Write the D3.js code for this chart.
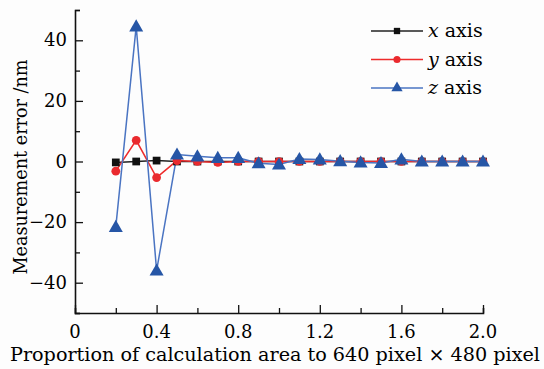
<!DOCTYPE html>
<html>
<head>
<meta charset="utf-8">
<script src="https://cdn.jsdelivr.net/npm/d3@7"></script>
<style>
  body { margin: 0; background: #fdfdfd; }
  svg { display: block; }
  text { font-family: "DejaVu Serif", "Liberation Serif", serif; fill: #000; }
</style>
</head>
<body>
<script>
var proportion = [0.2,0.3,0.4,0.5,0.6,0.7,0.8,0.9,1.0,1.1,1.2,1.3,1.4,1.5,1.6,1.7,1.8,1.9,2.0];
var errX = [-0.3,0,0.3,0,0,0,0,0,0,0,0,0,0,0,0,0,0,0,0];
var errY = [-3.2,7,-5.3,0.3,0,-0.3,0,0,0,0,0,0,0,0,0,0,0,0,0];
var errZ = [-21.6,44.6,-36,2.3,1.7,1.2,1.2,-0.6,-1,0.8,0.7,0.1,-0.3,-0.5,0.7,0,0,0,0];
var xTicks = [0,0.4,0.8,1.2,1.6,2.0];
var yTicks = [-40,-20,0,20,40];
var seriesNames = ["x", "y", "z"];

var series = [
  {name: seriesNames[0], vals: errX, color: "#111111", line: "#222222", shape: d3.symbolSquare},
  {name: seriesNames[1], vals: errY, color: "#ea2a2e", line: "#ee2b2b", shape: d3.symbolCircle},
  {name: seriesNames[2], vals: errZ, color: "#2656a6", line: "#4a74c2", shape: d3.symbolTriangle}
];

var svg = d3.select("body").append("svg").attr("width", 544).attr("height", 369);

var x = d3.scaleLinear().domain([0, 2]).range([75, 483]);
var y = d3.scaleLinear().domain([-50, 50]).range([313, 10]);

// axes, ticks pointing inward
var xAxis = d3.axisBottom(x).tickValues(d3.range(0, 2.01, 0.2)).tickSize(-5).tickFormat("");
var yAxis = d3.axisLeft(y).tickValues(d3.range(-50, 50.1, 10)).tickSize(-5).tickFormat("");

var gx = svg.append("g").attr("transform", "translate(0,313)").call(xAxis);
var gy = svg.append("g").attr("transform", "translate(75,0)").call(yAxis);
[gx, gy].forEach(function(g){
  g.select(".domain").attr("stroke", "#111").attr("stroke-width", 1.6);
  g.selectAll(".tick line").attr("stroke", "#111").attr("stroke-width", 1.3);
});
gx.selectAll(".tick line").attr("y2", function(d){ return Math.abs(d/0.4 - Math.round(d/0.4)) < 1e-6 ? -8 : -5; });
gy.selectAll(".tick line").attr("x2", function(d){ return d % 20 === 0 ? 8 : 5; });

svg.selectAll("text.xt").data(xTicks).enter().append("text")
  .attr("class", "xt")
  .attr("x", function(d){ return x(d); })
  .attr("y", 338)
  .attr("text-anchor", "middle")
  .attr("font-size", 18)
  .text(function(d){ return d === 0 ? "0" : d.toFixed(1); });

svg.selectAll("text.yt").data(yTicks).enter().append("text")
  .attr("class", "yt")
  .attr("x", 67)
  .attr("y", function(d){ return y(d) + 6; })
  .attr("text-anchor", "end")
  .attr("font-size", 18)
  .text(function(d){ return d < 0 ? "\u2212" + Math.abs(d) : d; });

svg.append("text")
  .attr("x", 275).attr("y", 361)
  .attr("text-anchor", "middle")
  .attr("font-size", 18)
  .attr("textLength", 530)
  .attr("lengthAdjust", "spacingAndGlyphs")
  .text("Proportion of calculation area to 640 pixel \u00d7 480 pixel");

svg.append("text")
  .attr("transform", "translate(27,167) rotate(-90)")
  .attr("text-anchor", "middle")
  .attr("font-size", 18)
  .attr("textLength", 215)
  .attr("lengthAdjust", "spacingAndGlyphs")
  .text("Measurement error /nm");

var line = d3.line()
  .x(function(d, i){ return x(proportion[i]); })
  .y(function(d){ return y(d); });

series.forEach(function(s){
  svg.append("path")
    .datum(s.vals)
    .attr("fill", "none")
    .attr("stroke", s.line)
    .attr("stroke-width", 1.5)
    .attr("d", line);
});

series.forEach(function(s){
  var size = s.shape === d3.symbolTriangle ? 85 : 60;
  svg.selectAll("path.m" + s.name).data(s.vals).enter().append("path")
    .attr("class", "m" + s.name)
    .attr("transform", function(d, i){
      var dy = s.shape === d3.symbolTriangle ? 1 : 0;
      return "translate(" + x(proportion[i]) + "," + (y(d) + dy) + ")";
    })
    .attr("fill", s.color)
    .attr("d", d3.symbol().type(s.shape).size(size));
});

// legend
var leg = svg.append("g").attr("transform", "translate(371,31)");
series.forEach(function(s, i){
  var g = leg.append("g").attr("transform", "translate(0," + (i * 28.5) + ")");
  g.append("line").attr("x1", 0).attr("x2", 52).attr("stroke", s.line).attr("stroke-width", 1.5);
  g.append("path").attr("transform", "translate(26,0)").attr("fill", s.color)
    .attr("d", d3.symbol().type(s.shape).size(s.shape === d3.symbolTriangle ? 55 : 40));
  var t = g.append("text").attr("x", 57).attr("y", 6).attr("font-size", 19);
  t.append("tspan").attr("font-style", "italic").text(s.name);
  t.append("tspan").text(" axis");
});
</script>
</body>
</html>
